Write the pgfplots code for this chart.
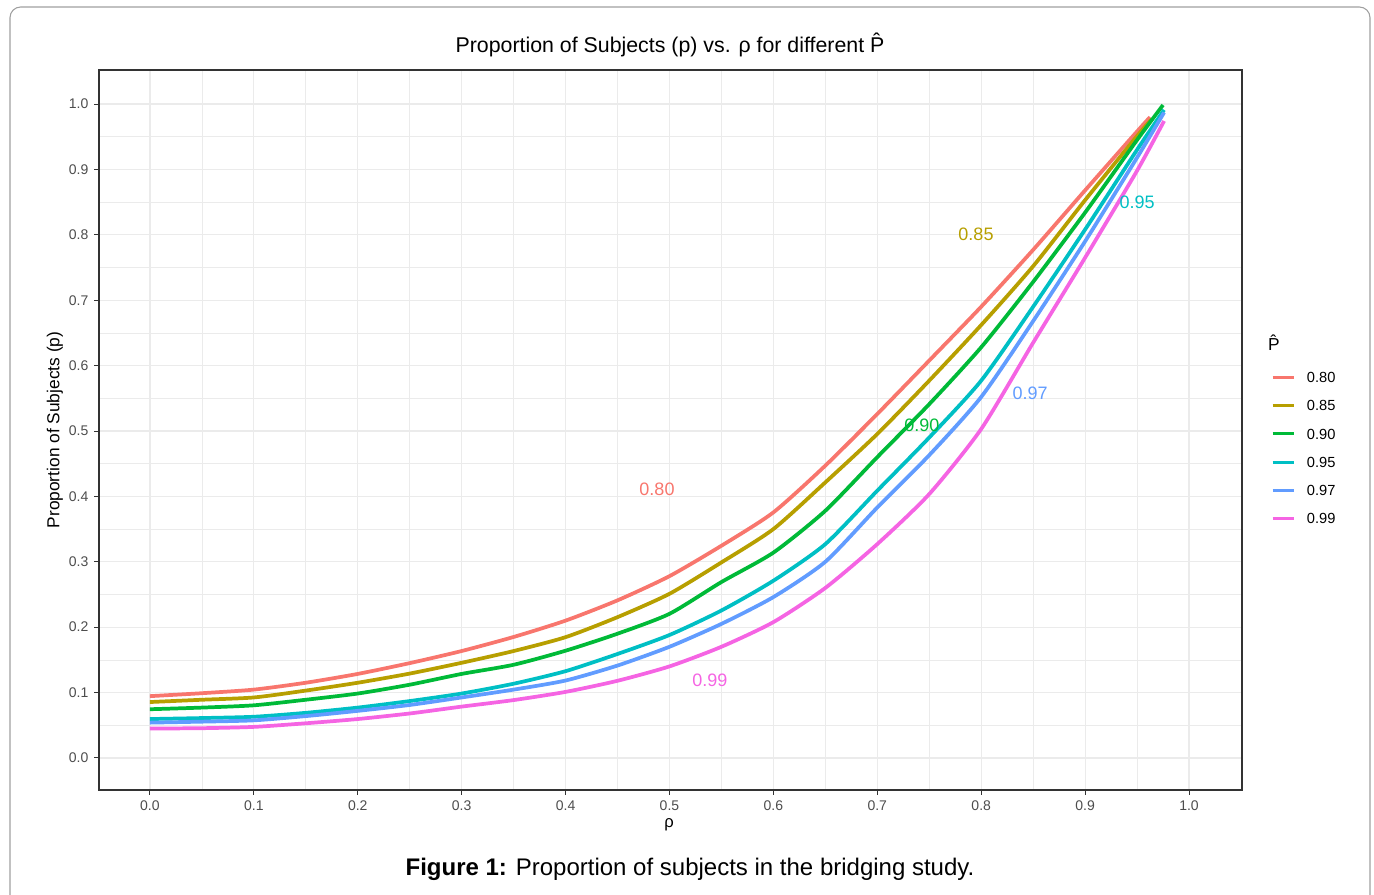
\documentclass[border=0pt]{standalone}
\usepackage{pgfplots}
\pgfplotsset{compat=1.18}
\usepackage{fontspec}
\setmainfont{Liberation Sans}

% ggplot hue palette, 6 levels
\definecolor{c80}{HTML}{F8766D}
\definecolor{c85}{HTML}{B79F00}
\definecolor{c90}{HTML}{00BA38}
\definecolor{c95}{HTML}{00BFC4}
\definecolor{c97}{HTML}{619CFF}
\definecolor{c99}{HTML}{F564E3}
\definecolor{gridgray}{HTML}{EBEBEB}
\definecolor{ticktext}{HTML}{4D4D4D}
\definecolor{panelline}{HTML}{333333}

\begin{document}
\begin{tikzpicture}
% page = 1374 x 895 px at 0.75pt per px; axis SW corner sits at px (99,790)
\useasboundingbox (-74.25pt,-78.75pt) rectangle (956.25pt,592.5pt);
\draw[gray!75, line width=0.8pt, rounded corners=8pt] (-66.75pt,-95pt) rectangle (953.25pt,587.25pt);

\begin{axis}[
  at={(0pt,0pt)}, anchor=south west,
  scale only axis, width=857.25pt, height=540pt,
  xmin=-0.049, xmax=1.051, ymin=-0.049, ymax=1.052,
  xtick={0,0.1,...,1.01}, ytick={0,0.1,...,1.01},
  minor tick num=1,
  grid=both,
  major grid style={gridgray, line width=0.9pt},
  minor grid style={gridgray, line width=0.5pt},
  axis line style={panelline, line width=0.8pt},
  tick align=outside, tick pos=left,
  major tick length=3.5pt, minor tick length=0pt,
  tick style={panelline, line width=0.7pt},
  /pgf/number format/assume math mode=true,
  /pgf/number format/.cd, fixed, fixed zerofill, precision=1,
  /pgfplots/.cd,
  ticklabel style={font=\fontsize{10.5}{11}\selectfont, text=ticktext},
  xticklabel style={yshift=-1pt},
  yticklabel style={xshift=-1pt},
  legend cell align=left,
  legend style={draw=none, fill=none, at={(1.0254,0.5806)}, anchor=north west,
    inner sep=0pt, outer sep=0pt,
    font=\fontsize{11}{11}\selectfont, row sep=13.2pt,
    /tikz/every odd column/.append style={column sep=9pt},
    nodes={inner sep=0pt, text height=8pt, text depth=0pt}},
  legend image code/.code={\draw[#1, line width=2.2pt] (0pt,0pt) -- (15.75pt,0pt);},
  every axis plot/.append style={line width=2.8pt, line join=round, smooth, tension=0.4},
]
\addplot[c80] coordinates {(0.00,0.0945) (0.05,0.099) (0.10,0.1045) (0.15,0.115) (0.20,0.1285) (0.25,0.145) (0.30,0.1635) (0.35,0.185) (0.40,0.210) (0.45,0.241) (0.50,0.278) (0.55,0.3245) (0.60,0.3755) (0.65,0.447) (0.70,0.526) (0.75,0.6077) (0.80,0.690) (0.85,0.777) (0.90,0.868) (0.95,0.958) (0.9625,0.980)};
\addplot[c85] coordinates {(0.00,0.0855) (0.05,0.089) (0.10,0.0925) (0.15,0.103) (0.20,0.115) (0.25,0.129) (0.30,0.1455) (0.35,0.1635) (0.40,0.1847) (0.45,0.2153) (0.50,0.251) (0.55,0.299) (0.60,0.350) (0.65,0.4214) (0.70,0.4954) (0.75,0.577) (0.80,0.662) (0.85,0.752) (0.90,0.853) (0.95,0.951) (0.964,0.9766)};
\addplot[c90] coordinates {(0.00,0.0745) (0.05,0.077) (0.10,0.0805) (0.15,0.089) (0.20,0.0985) (0.25,0.112) (0.30,0.1285) (0.35,0.1425) (0.40,0.164) (0.45,0.190) (0.50,0.2204) (0.55,0.269) (0.60,0.314) (0.65,0.378) (0.70,0.460) (0.75,0.541) (0.80,0.628) (0.85,0.728) (0.90,0.834) (0.95,0.945) (0.975,0.9985)};
\addplot[c95] coordinates {(0.00,0.0595) (0.05,0.061) (0.10,0.063) (0.15,0.069) (0.20,0.077) (0.25,0.087) (0.30,0.0985) (0.35,0.1135) (0.40,0.1327) (0.45,0.159) (0.50,0.188) (0.55,0.2255) (0.60,0.271) (0.65,0.327) (0.70,0.4087) (0.75,0.490) (0.80,0.577) (0.85,0.690) (0.90,0.808) (0.95,0.930) (0.976,0.991)};
\addplot[c97] coordinates {(0.00,0.054) (0.05,0.0555) (0.10,0.0575) (0.15,0.064) (0.20,0.072) (0.25,0.081) (0.30,0.0925) (0.35,0.1045) (0.40,0.1184) (0.45,0.1413) (0.50,0.170) (0.55,0.205) (0.60,0.246) (0.65,0.300) (0.70,0.383) (0.75,0.463) (0.80,0.552) (0.85,0.668) (0.90,0.790) (0.95,0.918) (0.976,0.987)};
\addplot[c99] coordinates {(0.00,0.045) (0.05,0.0455) (0.10,0.0475) (0.15,0.053) (0.20,0.0595) (0.25,0.068) (0.30,0.0785) (0.35,0.0885) (0.40,0.101) (0.45,0.118) (0.50,0.140) (0.55,0.170) (0.60,0.2077) (0.65,0.260) (0.70,0.327) (0.75,0.4035) (0.80,0.503) (0.85,0.635) (0.90,0.765) (0.95,0.898) (0.976,0.974)};
\legend{0.80,0.85,0.90,0.95,0.97,0.99}

\begin{scope}[every node/.style={font=\fontsize{13.5}{14}\selectfont}]
\node[text=c80] at (axis cs:0.488,0.411) {0.80};
\node[text=c85] at (axis cs:0.795,0.801) {0.85};
\node[text=c90] at (axis cs:0.743,0.509) {0.90};
\node[text=c95] at (axis cs:0.950,0.850) {0.95};
\node[text=c97] at (axis cs:0.847,0.558) {0.97};
\node[text=c99] at (axis cs:0.539,0.119) {0.99};
\end{scope}
\end{axis}

% titles, axis labels, legend title, caption (placed in px*0.75 from axis SW corner)
\node[font=\fontsize{16}{16}\selectfont] at (428.25pt,558.75pt) {Proportion of Subjects (p) vs. ρ for different \^{P}};
\node[rotate=90, font=\fontsize{13}{13}\selectfont] at (-33pt,270pt) {Proportion of Subjects (p)};
\node[font=\fontsize{12.5}{13}\selectfont] at (427.5pt,-26pt) {ρ};
\node[font=\fontsize{13}{13}\selectfont] at (881.25pt,335.25pt) {\^{P}};
\node[font=\fontsize{18}{18}\selectfont] at (443.25pt,-59.25pt) {\textbf{Figure 1:} Proportion of subjects in the bridging study.};
\end{tikzpicture}
\end{document}
